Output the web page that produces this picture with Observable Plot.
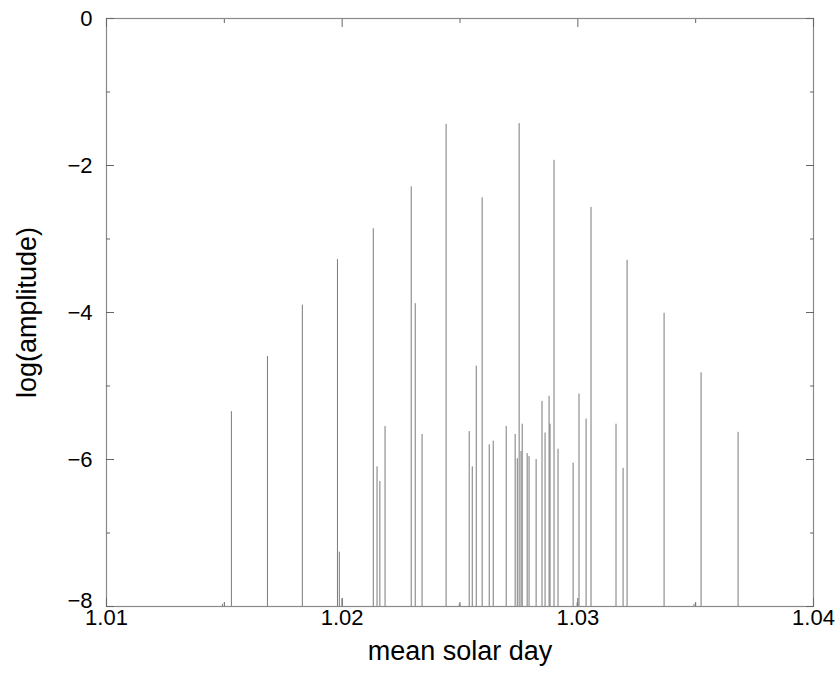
<!DOCTYPE html>
<html>
<head>
<meta charset="utf-8">
<script src="https://cdn.jsdelivr.net/npm/d3@7"></script>
<script src="https://cdn.jsdelivr.net/npm/@observablehq/plot@0.6"></script>
<style>
  html, body { margin: 0; padding: 0; background: #fff; }
  #chart { width: 840px; height: 678px; }
  svg { font-family: "Liberation Sans", Arial, Helvetica, sans-serif; }
</style>
</head>
<body>
<div id="chart"></div>
<script>
// mean solar day (period) of each spectral line
const period = [
  1.01530, 1.01683, 1.01831, 1.01980, 1.02132, 1.02293, 1.02441, 1.02594,
  1.02751, 1.02899, 1.03056, 1.03209, 1.03366, 1.03523, 1.03680,
  1.01492, 1.01988, 1.02000, 1.02148, 1.02160, 1.02182, 1.02310, 1.02339,
  1.02497, 1.02539, 1.02552, 1.02569, 1.02624, 1.02641, 1.02696,
  1.02734, 1.02743, 1.02759, 1.02764, 1.02785, 1.02793, 1.02823,
  1.02848, 1.02861, 1.02878, 1.02882, 1.02916, 1.02980, 1.02997,
  1.03005, 1.03035, 1.03162, 1.03192, 1.03493
];
// log(amplitude) of each line
const logAmp = [
  -5.35, -4.60, -3.90, -3.28, -2.86, -2.29, -1.44, -2.44,
  -1.43, -1.93, -2.57, -3.29, -4.01, -4.82, -5.63,
  -7.97, -7.26, -7.90, -6.10, -6.30, -5.55, -3.88, -5.66,
  -7.97, -5.62, -6.10, -4.73, -5.80, -5.75, -5.55,
  -5.66, -5.99, -5.89, -5.52, -5.92, -5.96, -6.00,
  -5.21, -5.64, -5.14, -5.52, -5.86, -6.05, -7.95,
  -5.11, -5.45, -5.52, -6.12, -7.97
];
const xTicks = [1.01, 1.02, 1.03, 1.04];
const xMinor = [1.015, 1.025, 1.035];
const yTicks = [0, -2, -4, -6, -8];
const yMinor = [-1, -3, -5, -7];
const yTicksUpper = [0, -2, -4, -6];
const yTicksBottom = [-8];

const lines = period.map((p, i) => ({period: p, amp: logAmp[i]}));
const fmtX = d3.format(".2f");
const none = () => "";
const tk = "#666";

const chart = Plot.plot({
  width: 840,
  height: 678,
  marginLeft: 106,
  marginRight: 27,
  marginTop: 18,
  marginBottom: 72,
  style: {fontFamily: '"Liberation Sans", Arial, sans-serif', fontSize: "22px", color: "#000", background: "#fff"},
  x: {domain: [1.01, 1.04]},
  y: {domain: [-8, 0]},
  marks: [
    Plot.ruleX(lines, {x: "period", y1: -8, y2: "amp", stroke: "#7a7a7a", strokeWidth: 1}),
    Plot.frame({stroke: "#8a8a8a", strokeWidth: 1.2}),
    // inward ticks (outward ticks shifted inside the frame)
    Plot.axisY({anchor: "left", ticks: yTicks, tickSize: 8, dx: 8, tickFormat: none, label: null, stroke: tk}),
    Plot.axisY({anchor: "left", ticks: yMinor, tickSize: 4, dx: 4, tickFormat: none, label: null, stroke: tk}),
    Plot.axisY({anchor: "right", ticks: yTicks, tickSize: 8, dx: -8, tickFormat: none, label: null, stroke: tk}),
    Plot.axisY({anchor: "right", ticks: yMinor, tickSize: 4, dx: -4, tickFormat: none, label: null, stroke: tk}),
    Plot.axisX({anchor: "bottom", ticks: xTicks, tickSize: 8, dy: -8, tickFormat: none, label: null, stroke: tk}),
    Plot.axisX({anchor: "bottom", ticks: xMinor, tickSize: 4, dy: -4, tickFormat: none, label: null, stroke: tk}),
    Plot.axisX({anchor: "top", ticks: xTicks, tickSize: 8, dy: 8, tickFormat: none, label: null, stroke: tk}),
    Plot.axisX({anchor: "top", ticks: xMinor, tickSize: 4, dy: 4, tickFormat: none, label: null, stroke: tk}),
    // tick labels
    Plot.axisY({anchor: "left", ticks: yTicksUpper, tickSize: 0, tickPadding: 14, fontSize: 22,
      label: "log(amplitude)", labelAnchor: "center", labelOffset: 90, labelArrow: "none"}),
    Plot.axisY({anchor: "left", ticks: yTicksBottom, tickSize: 0, tickPadding: 14, fontSize: 22, dy: -6, label: null}),
    Plot.axisX({anchor: "bottom", ticks: xTicks, tickSize: 0, tickPadding: 3, fontSize: 22, tickFormat: fmtX,
      label: "mean solar day", labelAnchor: "center", labelOffset: 53, labelArrow: "none"})
  ]
});
document.getElementById("chart").appendChild(chart);
// enlarge axis titles
chart.querySelectorAll("g[aria-label='y-axis label'] text, g[aria-label='x-axis label'] text").forEach(t => t.setAttribute("font-size", "27"));
</script>
</body>
</html>
